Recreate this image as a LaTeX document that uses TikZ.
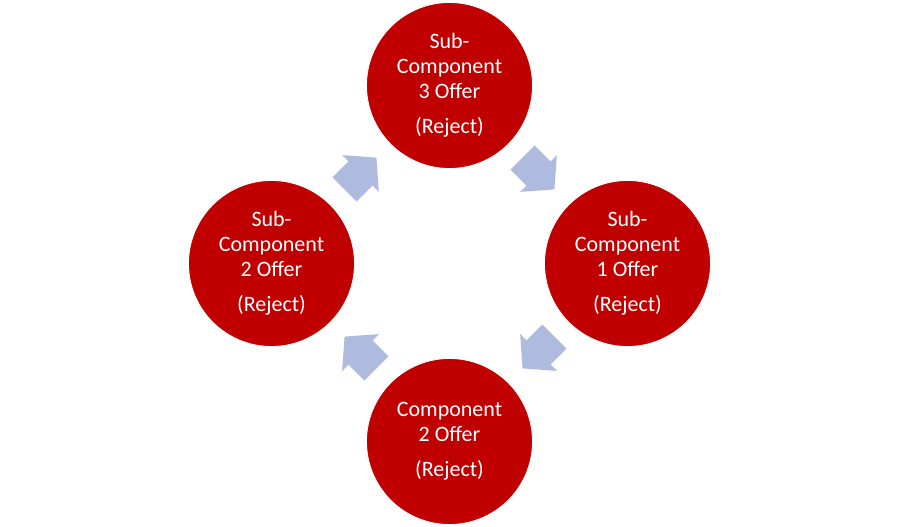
\documentclass[tikz,border=0pt]{standalone}
\usepackage{fontspec}
\setmainfont{Carlito}
\definecolor{cred}{RGB}{192,0,0}
\definecolor{carr}{RGB}{174,187,222}
\begin{document}
\begin{tikzpicture}[x=1pt,y=1pt,
 circ/.style={circle,fill=cred,draw=white,line width=0.8pt,minimum size=166pt,inner sep=0pt,text=white,align=center,font=\fontsize{22}{25}\selectfont},
 blockarrow/.style={fill=carr}]
\useasboundingbox (-449.5,-263.5) rectangle (449.5,263.5);
\node[circ] (c3) at (0,178) {Sub-\\Component\\3 Offer\\[10pt](Reject)};
\node[circ] (c1) at (178,0) {Sub-\\Component\\1 Offer\\[10pt](Reject)};
\node[circ] (c0) at (0,-178) {Component\\2 Offer\\[10pt](Reject)};
\node[circ] (c2) at (-178,0) {Sub-\\Component\\2 Offer\\[10pt](Reject)};
\def\arrowpath{(22.5,0) -- (0,26) -- (0,17) -- (-22.5,17) -- (-22.5,-17) -- (0,-17) -- (0,-26) -- cycle}
\fill[blockarrow, shift={(-89,90)}, rotate=45] \arrowpath;
\fill[blockarrow, shift={(89,90)}, rotate=-45] \arrowpath;
\fill[blockarrow, shift={(89,-89)}, rotate=-135] \arrowpath;
\fill[blockarrow, shift={(-89,-89)}, rotate=135] \arrowpath;
\end{tikzpicture}
\end{document}
